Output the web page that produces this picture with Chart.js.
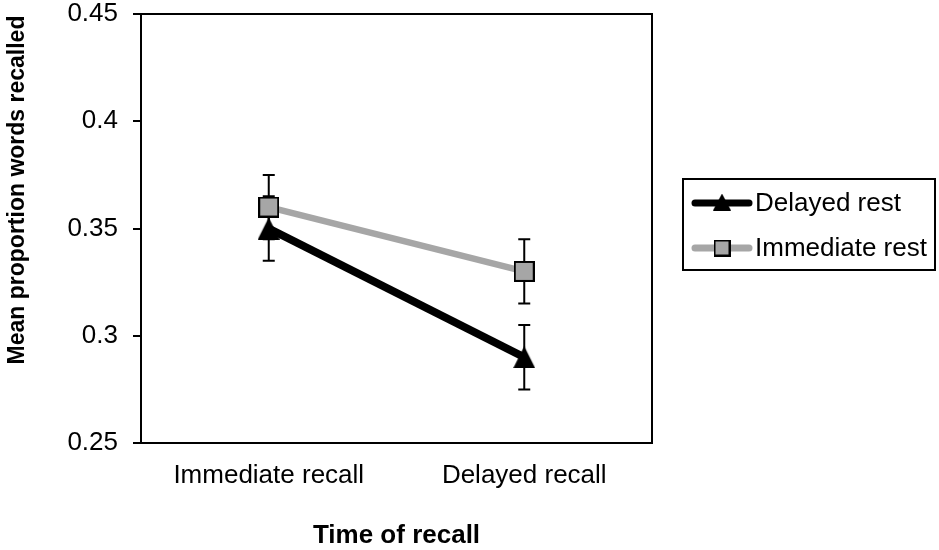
<!DOCTYPE html>
<html lang="en">
<head>
    <meta charset="UTF-8">
    <title>Mean proportion words recalled</title>
    <script src="https://cdn.jsdelivr.net/npm/chart.js"></script>
    <style>
        html, body {
            margin: 0;
            padding: 0;
            background: #fff;
        }
        .chart-box {
            width: 939px;
            height: 550px;
        }
    </style>
</head>
<body>
    <div class="chart-box">
        <canvas id="recallChart" width="939" height="550"></canvas>
    </div>

    <script>
        // data
        const categories = ['Immediate recall', 'Delayed recall'];
        const delayedRest = [0.35, 0.29];
        const immediateRest = [0.36, 0.33];
        const delayedRestErr = [0.015, 0.015];
        const immediateRestErr = [0.015, 0.015];
        const yTicks = [0.25, 0.3, 0.35, 0.4, 0.45];
        const seriesNames = ['Delayed rest', 'Immediate rest'];

        const GRAY = '#a6a6a6';
        const FONT = 'Arial, "Liberation Sans", sans-serif';

        function triangleImg(w, h) {
            const c = document.createElement('canvas');
            c.width = w;
            c.height = h;
            const g = c.getContext('2d');
            g.fillStyle = '#000';
            g.beginPath();
            g.moveTo(w / 2, 0);
            g.lineTo(w, h);
            g.lineTo(0, h);
            g.closePath();
            g.fill();
            return c;
        }

        function squareImg(s) {
            const c = document.createElement('canvas');
            c.width = s;
            c.height = s;
            const g = c.getContext('2d');
            g.fillStyle = GRAY;
            g.fillRect(0, 0, s, s);
            g.strokeStyle = '#000';
            g.lineWidth = 2;
            g.strokeRect(1, 1, s - 2, s - 2);
            return c;
        }

        const triBig = triangleImg(22, 22);
        const triSmall = triangleImg(18, 17);
        const sqBig = squareImg(21);
        const sqSmall = squareImg(17);

        // error bars go under the lines and markers
        const errorBars = {
            id: 'errorBars',
            beforeDatasetsDraw(chart) {
                const ctx = chart.ctx;
                const y = chart.scales.y;
                ctx.save();
                ctx.strokeStyle = '#000';
                ctx.lineWidth = 2;
                chart.data.datasets.forEach((ds, di) => {
                    const meta = chart.getDatasetMeta(di);
                    meta.data.forEach((pt, i) => {
                        const v = ds.data[i];
                        const e = ds.errors[i];
                        const top = y.getPixelForValue(v + e);
                        const bot = y.getPixelForValue(v - e);
                        ctx.beginPath();
                        ctx.moveTo(pt.x, top);
                        ctx.lineTo(pt.x, bot);
                        ctx.moveTo(pt.x - 6, top);
                        ctx.lineTo(pt.x + 6, top);
                        ctx.moveTo(pt.x - 6, bot);
                        ctx.lineTo(pt.x + 6, bot);
                        ctx.stroke();
                    });
                });
                ctx.restore();
            }
        };

        // box round the plot, y title and the legend
        const frame = {
            id: 'frame',
            afterDraw(chart) {
                const ctx = chart.ctx;
                const a = chart.chartArea;
                ctx.save();
                ctx.strokeStyle = '#000';
                ctx.lineWidth = 2;
                ctx.strokeRect(a.left, a.top, a.right - a.left, a.bottom - a.top);

                ctx.translate(18, 190);
                ctx.rotate(-Math.PI / 2);
                ctx.fillStyle = '#000';
                ctx.font = 'bold 23px ' + FONT;
                ctx.textAlign = 'center';
                ctx.textBaseline = 'middle';
                ctx.fillText('Mean proportion words recalled', 0, 0);
                ctx.restore();

                // legend
                ctx.save();
                const lx = a.right + 31, ly = 179;
                ctx.strokeStyle = '#000';
                ctx.lineWidth = 2;
                ctx.strokeRect(lx, ly, 252, 91);
                ctx.lineCap = 'round';
                ctx.font = '26px ' + FONT;
                ctx.textBaseline = 'middle';
                ctx.fillStyle = '#000';
                const rows = [ly + 24, ly + 69];
                chart.data.datasets.forEach((ds, i) => {
                    const ry = rows[i];
                    ctx.strokeStyle = ds.borderColor;
                    ctx.lineWidth = 7;
                    ctx.beginPath();
                    ctx.moveTo(lx + 12, ry);
                    ctx.lineTo(lx + 66, ry);
                    ctx.stroke();
                    const img = ds.legendMarker;
                    ctx.drawImage(img, lx + 39 - img.width / 2, ry - img.height / 2 - (i === 0 ? 1 : 0));
                    ctx.fillStyle = '#000';
                    ctx.fillText(ds.label, lx + 72, ry + 1);
                });
                ctx.restore();
            }
        };

        const ctx = document.getElementById('recallChart').getContext('2d');
        new Chart(ctx, {
            type: 'line',
            data: {
                labels: categories,
                datasets: [{
                    label: seriesNames[0],
                    data: delayedRest,
                    errors: delayedRestErr,
                    borderColor: '#000',
                    borderWidth: 8,
                    pointStyle: triBig,
                    legendMarker: triSmall,
                    order: 2
                }, {
                    label: seriesNames[1],
                    data: immediateRest,
                    errors: immediateRestErr,
                    borderColor: GRAY,
                    borderWidth: 6.5,
                    pointStyle: sqBig,
                    legendMarker: sqSmall,
                    order: 1
                }]
            },
            options: {
                responsive: false,
                animation: false,
                layout: {
                    padding: { left: 0, top: 14, right: 287, bottom: 0 }
                },
                plugins: {
                    legend: { display: false },
                    tooltip: { enabled: false }
                },
                scales: {
                    x: {
                        type: 'category',
                        offset: true,
                        afterFit(scale) { scale.height = 107; },
                        grid: { display: false, drawTicks: false, tickLength: 0 },
                        border: { display: true, color: '#000', width: 2 },
                        ticks: {
                            color: '#000',
                            padding: 17,
                            font: { family: FONT, size: 26, lineHeight: 1.2 }
                        },
                        title: {
                            display: true,
                            text: 'Time of recall',
                            color: '#000',
                            padding: { top: 0, bottom: 1 },
                            font: { family: FONT, size: 26, weight: 'bold', lineHeight: 1 }
                        }
                    },
                    y: {
                        min: 0.25,
                        max: 0.45,
                        afterFit(scale) {
                            scale.width = 141;
                            scale.paddingTop = 0;
                            scale.paddingBottom = 0;
                        },
                        afterBuildTicks(scale) {
                            scale.ticks = yTicks.map(v => ({ value: v }));
                        },
                        grid: {
                            drawOnChartArea: false,
                            drawTicks: true,
                            tickLength: 8,
                            color: '#000',
                            lineWidth: 2
                        },
                        border: { display: true, color: '#000', width: 2 },
                        ticks: {
                            color: '#000',
                            padding: 15,
                            font: { family: FONT, size: 26, lineHeight: 1 },
                            callback: v => String(v)
                        }
                    }
                }
            },
            plugins: [errorBars, frame]
        });
    </script>
</body>
</html>
